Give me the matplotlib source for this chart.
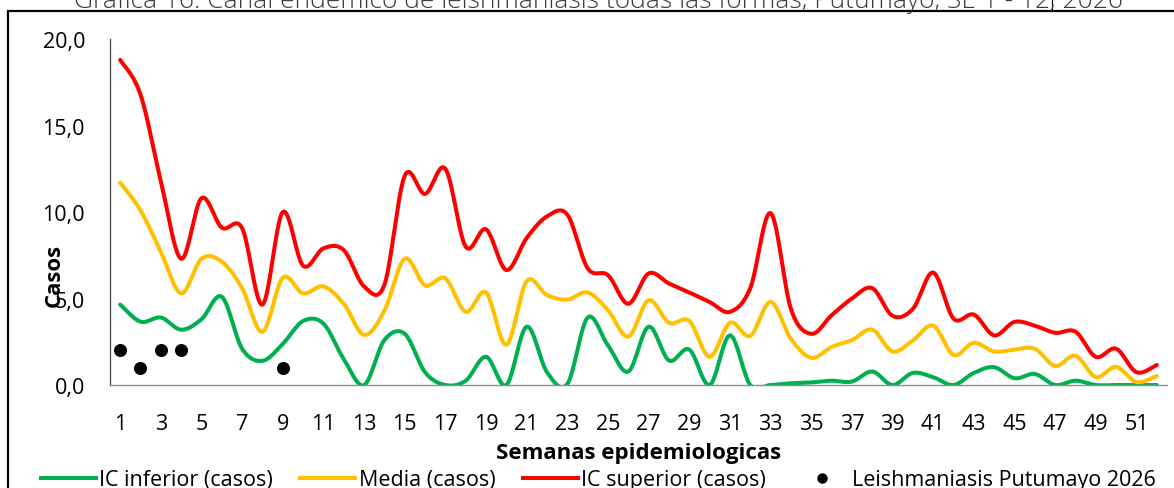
import numpy as np
from matplotlib import pyplot as plt
from matplotlib.lines import Line2D
from matplotlib.patches import Rectangle

# Datos del canal endémico (semanas 1-52)
semanas = list(range(1, 53))
ic_inferior = [4.65, 3.66, 3.9, 3.2, 3.8, 5.1, 2.1, 1.4, 2.38, 3.7,
               3.55, 1.5, 0.0, 2.6, 2.96, 0.74, 0.0, 0.25, 1.63, 0.0,
               3.37, 0.74, 0.06, 3.9, 2.29, 0.78, 3.37, 1.42, 2.05, 0.0,
               2.87, 0.0, 0.0, 0.1, 0.15, 0.25, 0.2, 0.78, 0.0, 0.7,
               0.45, 0.0, 0.7, 1.03, 0.39, 0.64, 0.0, 0.25, 0.0, 0.0,
               0.0, 0.0]
media = [11.7, 10.1, 7.7, 5.3, 7.3, 7.13, 5.6, 3.07, 6.2, 5.3,
         5.7, 4.7, 2.9, 4.3, 7.3, 5.77, 6.16, 4.23, 5.35, 2.33,
         6.0, 5.2, 4.94, 5.35, 4.32, 2.8, 4.9, 3.6, 3.7, 1.63,
         3.6, 2.84, 4.8, 2.67, 1.57, 2.2, 2.6, 3.2, 1.94, 2.58,
         3.43, 1.74, 2.44, 1.94, 2.05, 2.1, 1.1, 1.69, 0.46, 1.05,
         0.17, 0.52]
ic_superior = [18.8, 16.8, 11.8, 7.3, 10.8, 9.1, 9.07, 4.65, 10.0, 6.9,
               7.9, 7.8, 5.7, 5.8, 12.1, 11.05, 12.5, 8.0, 9.0, 6.65,
               8.5, 9.75, 9.85, 6.75, 6.35, 4.7, 6.45, 5.87, 5.35, 4.8,
               4.23, 5.6, 9.94, 4.4, 2.96, 4.03, 5.0, 5.6, 4.0, 4.4,
               6.5, 3.84, 4.07, 2.87, 3.65, 3.43, 3.02, 3.08, 1.63, 2.1,
               0.74, 1.16]
semanas_2026 = [1, 2, 3, 4, 9]
casos_2026 = [2, 1, 2, 2, 1]

titulo = "Gráfica 16. Canal endémico de leishmaniasis todas las formas, Putumayo, SE 1 - 12, 2026"


def suavizar(x, y, n=24):
    # curva suavizada tipo Excel (Catmull-Rom)
    x = np.asarray(x, float)
    y = np.asarray(y, float)
    px = np.concatenate([[x[0]], x, [x[-1]]])
    py = np.concatenate([[y[0]], y, [y[-1]]])
    t = np.linspace(0, 1, n, endpoint=False)
    xs, ys = [], []
    for i in range(1, len(px) - 2):
        for p, out in ((px, xs), (py, ys)):
            p0, p1, p2, p3 = p[i - 1], p[i], p[i + 1], p[i + 2]
            out.extend(0.5 * (2 * p1 + (-p0 + p2) * t
                              + (2 * p0 - 5 * p1 + 4 * p2 - p3) * t ** 2
                              + (-p0 + 3 * p1 - 3 * p2 + p3) * t ** 3))
    xs.append(x[-1])
    ys.append(y[-1])
    return xs, ys


plt.rcParams['font.family'] = ['Open Sans', 'DejaVu Sans']

fig = plt.figure(figsize=(11.74, 4.89), dpi=100)
ax = fig.add_axes([0.0937, 0.2106, 0.9003, 0.7074])

verde, amarillo, rojo = '#00B050', '#FFC000', '#FF0000'
ax.plot(*suavizar(semanas, ic_inferior), color=verde, lw=2.9, solid_capstyle='round')
ax.plot(*suavizar(semanas, media), color=amarillo, lw=2.9, solid_capstyle='round')
ax.plot(*suavizar(semanas, ic_superior), color=rojo, lw=2.9, solid_capstyle='round')
ax.scatter(semanas_2026, casos_2026, s=70, color='black', zorder=5)

ax.set_xlim(0.5, 52.5)
ax.set_ylim(0, 20)
ax.set_yticks([0, 5, 10, 15, 20])
ax.set_yticklabels(['0,0', '5,0', '10,0', '15,0', '20,0'])
ax.set_xticks(semanas[::2])
ax.tick_params(length=0, labelsize=15.5, colors='black')
ax.tick_params(axis='y', pad=18)
ax.tick_params(axis='x', pad=20)

for lado in ['top', 'right']:
    ax.spines[lado].set_visible(False)
ax.spines['left'].set_color('#404040')
ax.spines['left'].set_linewidth(0.9)
ax.spines['bottom'].set_color('#8c8c8c')
ax.spines['bottom'].set_linewidth(1.0)

ax.set_xlabel("Semanas epidemiologicas", fontsize=16, fontweight='bold', labelpad=6)
fig.text(54 / 1174, 1 - 275 / 489, "Casos", rotation=90, fontsize=16,
         fontweight='bold', ha='center', va='center')

# título cortado arriba
fig.text(598 / 1174, 1 - 8 / 489, titulo, fontsize=19, color='#3a3a3a',
         ha='center', va='baseline', fontweight='light')

# marco del gráfico
fig.patches.append(Rectangle((8 / 1174, -0.1), 1.2, 1.1 - 12 / 489,
                             transform=fig.transFigure, fill=False,
                             edgecolor='black', lw=1.6))
fig.add_artist(Line2D([1052 / 1174, 1052 / 1174], [1 - 12 / 489, 1],
                      transform=fig.transFigure, color='black', lw=0.8))

manijas = [Line2D([], [], color=verde, lw=2.9),
           Line2D([], [], color=amarillo, lw=2.9),
           Line2D([], [], color=rojo, lw=2.9),
           Line2D([], [], color='black', marker='o', ls='', markersize=6.5)]
etiquetas = ["IC inferior (casos)", "Media (casos)", "IC superior (casos)",
             "Leishmaniasis Putumayo 2026"]
fig.legend(manijas, etiquetas, loc='center left', ncol=4,
           bbox_to_anchor=(32 / 1174, 1 - 481 / 489), frameon=False,
           fontsize=15.5, handlelength=2.55, handletextpad=0.15,
           columnspacing=1.3, borderaxespad=0)

plt.savefig("out.png", dpi=100)
